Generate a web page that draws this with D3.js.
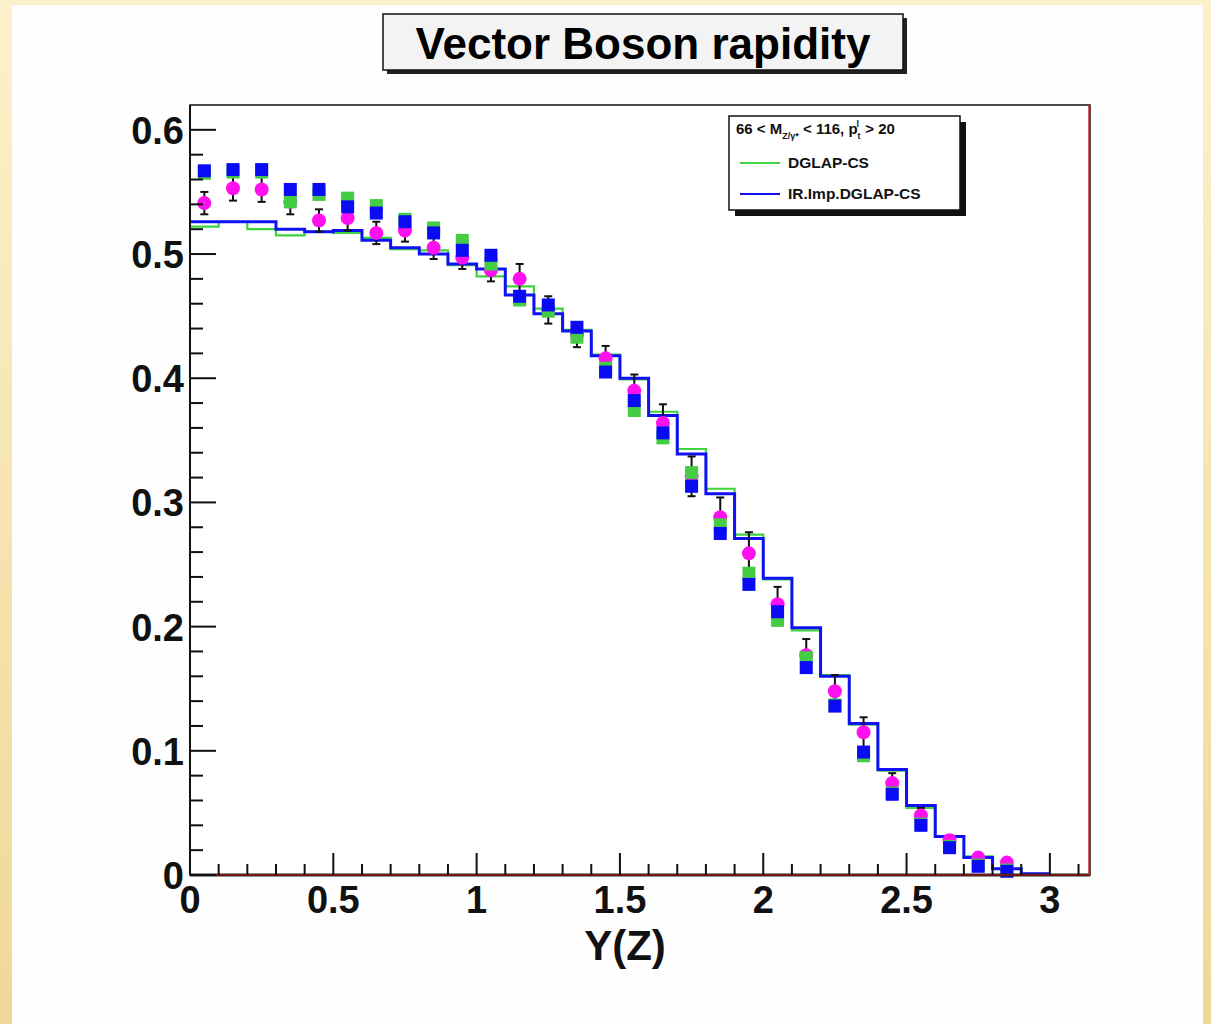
<!DOCTYPE html>
<html>
<head>
<meta charset="utf-8">
<script src="https://cdn.jsdelivr.net/npm/d3@7"></script>
<style>
  html, body { margin: 0; padding: 0; }
  body { width: 1211px; height: 1024px; overflow: hidden; background: #fbeec4; }
  text { font-family: "Liberation Sans", Arial, Helvetica, sans-serif; font-weight: bold; }
</style>
</head>
<body>
<svg id="chart" width="1211" height="1024"></svg>
<script>
// histogram bins, width 0.1, from 0 to 3
const binLow = [0, 0.1, 0.2, 0.3, 0.4, 0.5, 0.6, 0.7, 0.8, 0.9, 1.0, 1.1, 1.2, 1.3, 1.4,
                1.5, 1.6, 1.7, 1.8, 1.9, 2.0, 2.1, 2.2, 2.3, 2.4, 2.5, 2.6, 2.7, 2.8, 2.9];
const binWidth = 0.1;
const histBlue = [0.526, 0.526, 0.526, 0.520, 0.518, 0.519, 0.511, 0.505, 0.500, 0.492, 0.488, 0.467, 0.452, 0.438, 0.418,
                  0.400, 0.370, 0.339, 0.307, 0.271, 0.239, 0.199, 0.160, 0.122, 0.085, 0.056, 0.031, 0.014, 0.005, 0.001];
const histGreen = [0.522, 0.526, 0.520, 0.515, 0.518, 0.517, 0.513, 0.504, 0.503, 0.491, 0.482, 0.474, 0.456, 0.439, 0.419,
                   0.399, 0.373, 0.343, 0.311, 0.274, 0.238, 0.197, 0.161, 0.121, 0.084, 0.054, 0.031, 0.015, 0.005, 0.001];

// points at bin centres
const ptX = [0.05, 0.15, 0.25, 0.35, 0.45, 0.55, 0.65, 0.75, 0.85, 0.95, 1.05, 1.15, 1.25, 1.35, 1.45,
             1.55, 1.65, 1.75, 1.85, 1.95, 2.05, 2.15, 2.25, 2.35, 2.45, 2.55, 2.65, 2.75, 2.85];
const ptMagenta = [0.541, 0.553, 0.552, 0.542, 0.527, 0.529, 0.517, 0.519, 0.505, 0.497, 0.487, 0.480, 0.455, 0.435, 0.416,
                   0.390, 0.364, 0.321, 0.288, 0.259, 0.218, 0.177, 0.148, 0.115, 0.074, 0.048, 0.028, 0.014, 0.010];
const errMagenta = [0.009, 0.010, 0.010, 0.010, 0.009, 0.010, 0.009, 0.009, 0.009, 0.009, 0.009, 0.012, 0.011, 0.010, 0.010,
                    0.013, 0.015, 0.016, 0.016, 0.017, 0.014, 0.013, 0.013, 0.012, 0.008, 0.006, 0.004, 0.003, 0.003];
const ptGreen = [0.565, 0.566, 0.566, 0.542, 0.548, 0.545, 0.539, 0.528, 0.521, 0.511, 0.492, 0.463, 0.454, 0.433, 0.408,
                 0.374, 0.352, 0.324, 0.282, 0.243, 0.205, 0.175, 0.137, 0.096, 0.066, 0.041, 0.023, 0.008, 0.004];
const ptBlue = [0.567, 0.568, 0.568, 0.552, 0.552, 0.538, 0.533, 0.526, 0.517, 0.503, 0.499, 0.466, 0.459, 0.441, 0.405,
                0.382, 0.356, 0.313, 0.275, 0.234, 0.212, 0.167, 0.136, 0.099, 0.065, 0.040, 0.022, 0.007, 0.003];

const xTicks = [0, 0.5, 1, 1.5, 2, 2.5, 3];
const yTicks = [0, 0.1, 0.2, 0.3, 0.4, 0.5, 0.6];

const svg = d3.select('#chart');

// slide background
const defs = svg.append('defs');
const grad = defs.append('linearGradient').attr('id', 'bg').attr('x1', 0).attr('y1', 0).attr('x2', 0).attr('y2', 1);
grad.append('stop').attr('offset', '0%').attr('stop-color', '#fdf1cb');
grad.append('stop').attr('offset', '100%').attr('stop-color', '#efd898');
svg.append('rect').attr('width', 1211).attr('height', 1024).attr('fill', 'url(#bg)');
svg.append('rect').attr('x', 12).attr('y', 5).attr('width', 1191).attr('height', 1019).attr('fill', '#fefefe');

// frame
const fL = 190, fR = 1090, fT = 105, fB = 875;
const x = d3.scaleLinear().domain([0, 3.14]).range([fL, fR]);
const y = d3.scaleLinear().domain([0, 0.62]).range([fB, fT]);

svg.append('rect').attr('x', fL).attr('y', fT).attr('width', fR - fL).attr('height', fB - fT)
    .attr('fill', '#ffffff').attr('stroke', '#111').attr('stroke-width', 1.5);

// histograms
const stepLine = d3.line().curve(d3.curveStepAfter).x(d => x(d[0])).y(d => y(d[1]));
function histPoints(vals) {
    const pts = binLow.map((b, i) => [b, vals[i]]);
    pts.push([binLow[binLow.length - 1] + binWidth, vals[vals.length - 1]]);
    return pts;
}
svg.append('path').datum(histPoints(histGreen)).attr('d', stepLine)
    .attr('fill', 'none').attr('stroke', '#3fd43f').attr('stroke-width', 2.2);
svg.append('path').datum(histPoints(histBlue)).attr('d', stepLine)
    .attr('fill', 'none').attr('stroke', '#1010f5').attr('stroke-width', 3);

// error bars + magenta points
const errG = svg.append('g').attr('stroke', '#111').attr('stroke-width', 2);
ptX.forEach((v, i) => {
    const cx = x(v);
    const y0 = y(ptMagenta[i] - errMagenta[i]), y1 = y(ptMagenta[i] + errMagenta[i]);
    errG.append('line').attr('x1', cx).attr('x2', cx).attr('y1', y0).attr('y2', y1);
    errG.append('line').attr('x1', cx - 4).attr('x2', cx + 4).attr('y1', y0).attr('y2', y0);
    errG.append('line').attr('x1', cx - 4).attr('x2', cx + 4).attr('y1', y1).attr('y2', y1);
});
svg.append('g').selectAll('circle').data(ptX).enter().append('circle')
    .attr('cx', d => x(d)).attr('cy', (d, i) => y(ptMagenta[i])).attr('r', 7)
    .attr('fill', '#ff10ee');

// squares
const sq = 13;
svg.append('g').selectAll('rect').data(ptX).enter().append('rect')
    .attr('x', d => x(d) - sq / 2).attr('y', (d, i) => y(ptGreen[i]) - sq / 2)
    .attr('width', sq).attr('height', sq).attr('fill', '#44cc44');
svg.append('g').selectAll('rect').data(ptX).enter().append('rect')
    .attr('x', d => x(d) - sq / 2).attr('y', (d, i) => y(ptBlue[i]) - sq / 2)
    .attr('width', sq).attr('height', sq).attr('fill', '#0a0af5');

// red lines on bottom and right edge
svg.append('line').attr('x1', fL).attr('x2', fR).attr('y1', fB).attr('y2', fB)
    .attr('stroke', '#222').attr('stroke-width', 3);
svg.append('line').attr('x1', fL).attr('x2', fR).attr('y1', fB).attr('y2', fB)
    .attr('stroke', '#c01010').attr('stroke-width', 1.2);
svg.append('line').attr('x1', fR - 1).attr('x2', fR - 1).attr('y1', fT).attr('y2', fB)
    .attr('stroke', '#cc2020').attr('stroke-width', 1.5);

// y axis
const yAxis = svg.append('g');
yAxis.append('line').attr('x1', fL).attr('x2', fL).attr('y1', fT).attr('y2', fB)
    .attr('stroke', '#111').attr('stroke-width', 2);
d3.range(0, 0.6101, 0.02).forEach(t => {
    const major = Math.abs(t * 10 - Math.round(t * 10)) < 1e-6;
    yAxis.append('line').attr('x1', fL).attr('x2', fL + (major ? 26 : 13))
        .attr('y1', y(t)).attr('y2', y(t)).attr('stroke', '#111').attr('stroke-width', 2);
});
yAxis.selectAll('text').data(yTicks).enter().append('text')
    .attr('x', 184).attr('y', d => y(d) + 14).attr('text-anchor', 'end')
    .attr('font-size', 38).attr('fill', '#111').text(d => d);

// x axis
const xAxis = svg.append('g');
d3.range(0, 3.101, 0.1).forEach(t => {
    const major = Math.abs(t * 2 - Math.round(t * 2)) < 1e-6;
    xAxis.append('line').attr('x1', x(t)).attr('x2', x(t))
        .attr('y1', fB).attr('y2', fB - (major ? 22 : 11)).attr('stroke', '#111').attr('stroke-width', 2);
});
xAxis.selectAll('text').data(xTicks).enter().append('text')
    .attr('x', d => x(d)).attr('y', 913).attr('text-anchor', 'middle')
    .attr('font-size', 38).attr('fill', '#111').text(d => d);
svg.append('text').attr('x', 625).attr('y', 960).attr('text-anchor', 'middle')
    .attr('font-size', 42).attr('fill', '#111').text('Y(Z)');

// title box
svg.append('rect').attr('x', 387).attr('y', 18).attr('width', 520).attr('height', 56).attr('fill', '#222');
svg.append('rect').attr('x', 383).attr('y', 14).attr('width', 520).attr('height', 56)
    .attr('fill', '#f3f3f3').attr('stroke', '#111').attr('stroke-width', 1.5);
svg.append('text').attr('x', 643).attr('y', 59).attr('text-anchor', 'middle')
    .attr('font-size', 44).attr('fill', '#000').text('Vector Boson rapidity');

// legend
const lg = svg.append('g');
lg.append('rect').attr('x', 735).attr('y', 122).attr('width', 231).attr('height', 94).attr('fill', '#111');
lg.append('rect').attr('x', 729).attr('y', 116).attr('width', 231).attr('height', 94)
    .attr('fill', '#ffffff').attr('stroke', '#111').attr('stroke-width', 1.5);
const hdr = lg.append('text').attr('x', 736).attr('y', 134).attr('font-size', 15).attr('fill', '#111');
hdr.append('tspan').text('66 < M');
hdr.append('tspan').attr('font-size', 9).attr('dy', 5).text('Z/\u03b3*');
hdr.append('tspan').attr('dy', -5).text(' < 116, p');
hdr.append('tspan').attr('font-size', 9).attr('dy', 5).text('t');
hdr.append('tspan').attr('font-size', 9).attr('dy', -12).attr('dx', -4).text('l');
hdr.append('tspan').attr('dy', 7).attr('dx', 2).text(' > 20');
const entries = [['DGLAP-CS', '#3fd43f', 163], ['IR.Imp.DGLAP-CS', '#1010f5', 194]];
entries.forEach(e => {
    lg.append('line').attr('x1', 740).attr('x2', 780).attr('y1', e[2]).attr('y2', e[2])
        .attr('stroke', e[1]).attr('stroke-width', 2);
    lg.append('text').attr('x', 788).attr('y', e[2] + 5).attr('font-size', 15.5).attr('fill', '#111').text(e[0]);
});
</script>
</body>
</html>
